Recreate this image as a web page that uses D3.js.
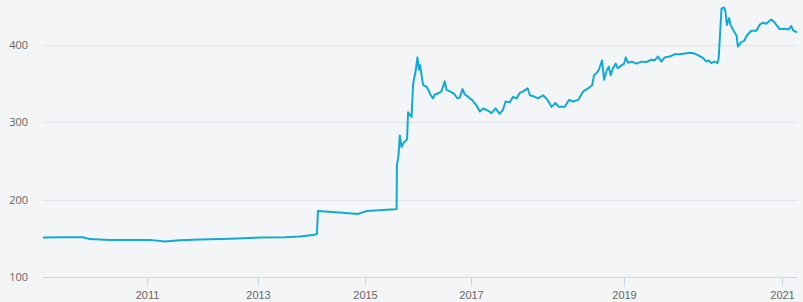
<!DOCTYPE html>
<html>
<head>
<meta charset="utf-8">
<script src="https://cdn.jsdelivr.net/npm/d3@7"></script>
<style>
  html, body { margin: 0; padding: 0; background: #f4f5f7; }
  svg { display: block; font-family: "Open Sans", "Liberation Sans", sans-serif; }
  .grid line { stroke: #e2e3e6; }
  .x-axis text, .y-axis text { fill: #666666; font-size: 11px; }
</style>
</head>
<body>
<div class="container"></div>
<script>
// Data (dates, values)
const dates = [
  "2009-02-16", "2009-06-07", "2009-11-05", "2009-12-20", "2010-05-01", "2010-09-10",
  "2011-01-20", "2011-04-28", "2011-08-05", "2011-12-15", "2012-07-01", "2013-01-15",
  "2013-07-03", "2013-10-14", "2014-01-24", "2014-02-07", "2014-02-14", "2014-08-03",
  "2014-11-13", "2015-01-15", "2015-07-26", "2015-08-07", "2015-08-09", "2015-08-19",
  "2015-08-29", "2015-09-10", "2015-09-26", "2015-10-18", "2015-10-25", "2015-11-18",
  "2015-11-29", "2015-12-15", "2015-12-29", "2016-01-07", "2016-01-16", "2016-01-26",
  "2016-02-06", "2016-02-29", "2016-03-16", "2016-03-29", "2016-04-14", "2016-04-26",
  "2016-05-15", "2016-06-11", "2016-07-04", "2016-07-16", "2016-08-07", "2016-09-06",
  "2016-09-29", "2016-10-15", "2016-11-03", "2016-11-19", "2016-12-07", "2016-12-23",
  "2017-01-06", "2017-01-27", "2017-02-12", "2017-02-28", "2017-03-24", "2017-04-09",
  "2017-04-28", "2017-05-18", "2017-06-02", "2017-06-15", "2017-07-05", "2017-07-21",
  "2017-08-06", "2017-08-22", "2017-09-07", "2017-09-28", "2017-10-09", "2017-11-01",
  "2017-11-17", "2017-12-11", "2018-01-01", "2018-01-20", "2018-02-08", "2018-02-24",
  "2018-03-25", "2018-04-13", "2018-05-03", "2018-05-27", "2018-06-20", "2018-07-14",
  "2018-08-02", "2018-08-11", "2018-08-24", "2018-09-03", "2018-09-18", "2018-09-28",
  "2018-10-09", "2018-10-20", "2018-10-30", "2018-11-08", "2018-11-22", "2018-12-02",
  "2018-12-12", "2019-01-02", "2019-01-09", "2019-01-20", "2019-02-05", "2019-02-28",
  "2019-03-23", "2019-04-15", "2019-05-08", "2019-05-23", "2019-06-07", "2019-06-23",
  "2019-07-08", "2019-07-31", "2019-08-24", "2019-09-16", "2019-10-09", "2019-11-01",
  "2019-11-24", "2019-12-17", "2020-01-02", "2020-01-17", "2020-01-28", "2020-02-09",
  "2020-02-24", "2020-03-08", "2020-03-14", "2020-03-27", "2020-04-08", "2020-04-14",
  "2020-04-21", "2020-05-01", "2020-05-08", "2020-05-19", "2020-05-30", "2020-06-05",
  "2020-06-11", "2020-06-27", "2020-07-09", "2020-07-24", "2020-08-12", "2020-09-04",
  "2020-09-19", "2020-10-05", "2020-10-20", "2020-11-12", "2020-11-28", "2020-12-21",
  "2021-01-14", "2021-01-29", "2021-02-11", "2021-02-21", "2021-03-09"
];
const values = [
  151, 151.5, 151.5, 149, 148, 148,
  148, 146, 147.5, 148.5, 149.5, 151,
  151.5, 152.5, 154.5, 156, 185.5, 183,
  181.5, 185.5, 187.5, 188, 245, 255,
  283, 268, 274, 278, 313, 307,
  350, 365, 384, 368, 374, 361,
  348, 346, 341, 335, 331, 336,
  337, 340, 353, 342, 340, 337,
  331, 332, 343, 336, 334, 331,
  329, 322, 314, 318, 315, 312,
  318, 311, 316, 327, 326, 333,
  331, 338, 340, 344, 335, 333,
  331, 335, 329, 320, 325, 320,
  320, 329, 327, 329, 340, 344,
  348, 361, 364, 368, 380, 355,
  366, 372, 361, 369, 376, 370,
  372, 376, 384, 377, 378.5, 376,
  378.5, 378, 381, 380, 385, 378.5,
  384, 385, 388, 388, 389, 390,
  389, 385.5, 383, 378.5, 380, 376.5,
  378.5, 376.5, 383, 447, 448.5, 444,
  426, 434.5, 426, 420, 415, 412,
  398, 404, 405, 413, 418.5, 418.5,
  426, 429, 427.5, 433, 429, 420.5,
  421, 420, 424.5, 418.5, 416.5
];
const yTicks = [100, 200, 300, 400];
const xTickYears = [2011, 2013, 2015, 2017, 2019, 2021];

const width = 803,
    height = 302,
    margin = { top: 6, right: 6, bottom: 25, left: 43 };

const parse = d3.timeParse("%Y-%m-%d");
const data = dates.map((d, i) => ({ date: parse(d), value: values[i] }));

// Ordinal-like axis: years are not equally wide, so use a polylinear time scale
const yearDates = xTickYears.map(y => new Date(y, 0, 1));
const x = d3.scaleTime()
    .domain([data[0].date, ...yearDates, data[data.length - 1].date])
    .range([43, 147, 258, 365, 471, 624, 782, 797]);

const y = d3.scaleLinear()
    .domain([100, 450])
    .range([277, 277 - 350 * (232 / 300)]);

const svg = d3.select(".container")
    .append("svg")
    .attr("width", width)
    .attr("height", height);

svg.append("rect")
    .attr("width", width)
    .attr("height", height)
    .attr("fill", "#f4f5f7");

// horizontal grid
svg.append("g")
    .attr("class", "grid")
    .selectAll("line")
    .data(yTicks.slice(1))
    .enter()
    .append("line")
    .attr("x1", margin.left)
    .attr("x2", width - margin.right)
    .attr("y1", d => Math.round(y(d)) + 0.5)
    .attr("y2", d => Math.round(y(d)) + 0.5);

// y labels
svg.append("g")
    .attr("class", "y-axis")
    .selectAll("text")
    .data(yTicks)
    .enter()
    .append("text")
    .attr("x", 28)
    .attr("y", d => y(d) + 4)
    .attr("text-anchor", "end")
    .text(d => d);

// x axis
const xAxis = svg.append("g")
    .attr("class", "x-axis")
    .attr("transform", `translate(0,${Math.round(y(100)) + 0.5})`)
    .call(d3.axisBottom(x)
        .tickValues(yearDates)
        .tickFormat(d3.timeFormat("%Y"))
        .tickSize(9)
        .tickPadding(5));
xAxis.select(".domain").remove();
xAxis.selectAll(".tick line").attr("stroke", "#ccd6eb");
xAxis.append("line")
    .attr("x1", margin.left)
    .attr("x2", width - margin.right)
    .attr("stroke", "#ccd6eb");

// series
const line = d3.line()
    .x(d => x(d.date))
    .y(d => y(d.value));

svg.append("path")
    .datum(data)
    .attr("fill", "none")
    .attr("stroke", "#10aad2")
    .attr("stroke-width", 2)
    .attr("stroke-linejoin", "round")
    .attr("d", line);
</script>
</body>
</html>
